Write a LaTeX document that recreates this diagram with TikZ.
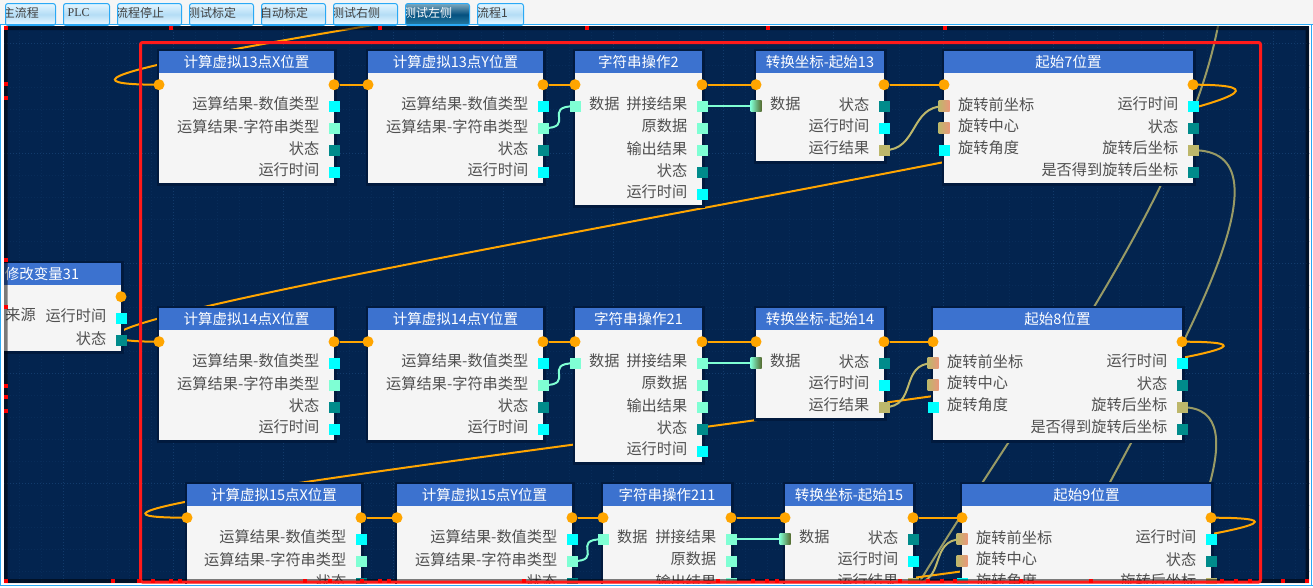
\documentclass[tikz,border=0pt]{standalone}
\usepackage{fontspec}
\setmainfont{Noto Sans CJK SC}
\newfontfamily\plcfont{Liberation Serif}
\usepackage{xcolor}
\usepackage{tikz}
\usetikzlibrary{backgrounds,calc}

\pgfdeclarelayer{backlayer}
\pgfdeclarelayer{wirelayer}
\pgfsetlayers{backlayer,wirelayer,main}

\definecolor{canvascol}{HTML}{03244F}
\definecolor{gridminor}{HTML}{082C59}
\definecolor{gridmajor}{HTML}{123B6C}
\definecolor{glowcol}{HTML}{011A3E}
\definecolor{titlecol}{HTML}{3C72CF}
\definecolor{bodycol}{HTML}{F5F5F5}
\definecolor{textcol}{HTML}{505050}
\definecolor{framecol}{HTML}{2AA9F5}
\definecolor{redcol}{HTML}{FF1A1A}
\definecolor{wireorange}{HTML}{FFA500}
\definecolor{cyancol}{HTML}{00FFFF}
\definecolor{aquacol}{HTML}{7FFFD4}
\definecolor{tealcol}{HTML}{008B8B}
\definecolor{khakicol}{HTML}{BDB76B}
\definecolor{salmoncol}{HTML}{E9967A}
\definecolor{olivecol}{HTML}{556B2F}
\definecolor{tabtop}{HTML}{E4F6FF}
\definecolor{tabmid}{HTML}{B4DDF6}
\definecolor{tabbot}{HTML}{EFFAFF}
\definecolor{acttop}{HTML}{7FA9BF}
\definecolor{actmid}{HTML}{04507F}
\definecolor{actbot}{HTML}{2A7FA5}

\tikzset{
	blockbody/.style={fill=bodycol,inner sep=0pt,outer sep=0pt,anchor=north west,preaction={draw=glowcol,line width=5pt}},
	blocktitle/.style={fill=titlecol,text=white,inner sep=0pt,outer sep=0pt,anchor=north west,minimum height=22pt,text height=13.5pt,text depth=3.5pt,font=\fontsize{14.5}{16}\selectfont},
	blocklabel/.style={text=textcol,inner sep=0pt,font=\fontsize{15.2}{17}\selectfont},
	flowpin/.style={shape=circle,fill=wireorange,minimum width=11pt,inner sep=0pt,outer sep=0pt},
	pinbase/.style={shape=rectangle,minimum width=11pt,minimum height=11pt,inner sep=0pt,outer sep=0pt},
	pincyan/.style={pinbase,fill=cyancol},
	pinaqua/.style={pinbase,fill=aquacol},
	pinteal/.style={pinbase,fill=tealcol},
	pinkhaki/.style={pinbase,fill=khakicol},
	pinsalmon/.style={pinbase,left color=khakicol,right color=salmoncol},
	pinolive/.style={pinbase,left color=aquacol,right color=olivecol},
	goldwire/.style={draw=wireorange,line width=2pt},
	aquawire/.style={draw=aquacol,line width=2pt},
	khakiwire/.style={draw=khakicol,line width=2pt},
	farwire/.style={draw=khakicol!80!canvascol,line width=2pt},
	tabbox/.style={draw=framecol,line width=1pt,rounded corners=2.5pt,anchor=north west,inner sep=0pt,minimum height=22pt,top color=tabtop,bottom color=tabbot,middle color=tabmid},
	tabactive/.style={draw=framecol,line width=1pt,rounded corners=2.5pt,anchor=north west,inner sep=0pt,minimum height=22pt,top color=acttop,bottom color=actbot,middle color=actmid},
	tabtext/.style={anchor=west,inner sep=0pt,text=black!75,font=\fontsize{12}{14}\selectfont}
}

% name, left, top, width, height, title, outputs, inputs
\newcommand{\flowblock}[8]{
	\node[blockbody,minimum width=#4,minimum height=#5] (#1) at (#2,#3) {};
	\node[blocktitle,minimum width=#4] (#1-title) at (#2,#3) {#6};
	\node[flowpin] (#1-in) at (#2,#3+33.7) {};
	\node[flowpin] (#1-out) at (#2+#4,#3+33.7) {};
	\foreach \lab/\col [count=\k] in #7 {
		\node[\col] (#1-out\k) at (#2+#4,#3+33.2+22*\k) {};
		\node[blocklabel,anchor=east] (#1-outlab\k) at (#2+#4-14.5,#3+31.2+22*\k) {\lab};
	}
	\foreach \lab/\col [count=\k] in #8 {
		\node[\col] (#1-port\k) at (#2,#3+33.2+22*\k) {};
		\node[blocklabel,anchor=west] (#1-portlab\k) at (#2+14,#3+31.2+22*\k) {\lab};
	}
}

\newcommand{\calcout}{运算结果-数值类型/pincyan,运算结果-字符串类型/pinaqua,状态/pinteal,运行时间/pincyan}
\newcommand{\strout}{拼接结果/pinaqua,原数据/pinaqua,输出结果/pinaqua,状态/pinteal,运行时间/pincyan}
\newcommand{\convout}{状态/pinteal,运行时间/pincyan,运行结果/pinkhaki}
\newcommand{\startout}{运行时间/pincyan,状态/pinteal,旋转后坐标/pinkhaki,是否得到旋转后坐标/pinteal}

\begin{document}
\begin{tikzpicture}[x=1pt,y=-1pt]
\useasboundingbox (0,0) rectangle (1313,587);

\begin{pgfonlayer}{backlayer}
	\fill[bodycol] (0,0) rectangle (1313,587);
	\fill[white] (0,25) rectangle (1313,587);
	\fill[canvascol] (4,26) rectangle (1309,583);
	\foreach \gx in {19,41,...,1305} {
		\draw[gridminor,line width=1pt,dotted] (\gx,26) -- (\gx,583);
	}
	\foreach \gy in {43,65,...,583} {
		\draw[gridminor,line width=1pt,dotted] (4,\gy) -- (1309,\gy);
	}
	\foreach \gx in {63,173,...,1273} {
		\draw[gridmajor,line width=1pt,dotted] (\gx,26) -- (\gx,583);
	}
	\foreach \gy in {43,153,263,373,483} {
		\draw[gridmajor,line width=1pt,dotted] (4,\gy) -- (1309,\gy);
	}
\end{pgfonlayer}

\foreach \tabl/\tabr/\tabx/\tabstyle/\tabname [count=\t] in {
	5/55/2.6/tabbox/主流程,
	63/109/67.5/tabbox/{\plcfont PLC},
	117/181/116/tabbox/流程停止,
	189/253/188/tabbox/测试标定,
	261/325/260/tabbox/自动标定,
	333/397/332/tabbox/测试右侧,
	405/469/404/tabactive/测试左侧,
	477/523/477/tabbox/流程1} {
	\node[\tabstyle,minimum width=\tabr-\tabl] (tab\t) at (\tabl,3) {};
	\begin{scope}
		\clip (\tabl+1,3) rectangle (\tabr,24);
		\ifnum\t=7
			\node[tabtext,text=white] (tablab\t) at (\tabx,13) {\tabname};
		\else
			\node[tabtext] (tablab\t) at (\tabx,13) {\tabname};
		\fi
	\end{scope}
}

\begin{scope}
\clip (4,26) rectangle (1309,583);

\flowblock{modify31}{-37}{263}{158}{88}{修改变量31}{{运行时间/pincyan,状态/pinteal}}{{}}
\node[blocklabel,anchor=east] (modify31-source) at (36,315) {来源};

% row 13
\flowblock{calcx13}{159}{51}{175}{132}{计算虚拟13点X位置}{\calcout}{{}}
\flowblock{calcy13}{368}{51}{175}{132}{计算虚拟13点Y位置}{\calcout}{{}}
\flowblock{str13}{575}{51}{127}{154}{字符串操作2}{\strout}{{数据/pinaqua}}
\flowblock{conv13}{756}{51}{128}{110}{转换坐标-起始13}{\convout}{{数据/pinolive}}
\flowblock{start7}{944}{51}{249}{132}{起始7位置}{\startout}{{旋转前坐标/pinsalmon,旋转中心/pinsalmon,旋转角度/pincyan}}

% row 14
\flowblock{calcx14}{159}{308}{175}{132}{计算虚拟14点X位置}{\calcout}{{}}
\flowblock{calcy14}{368}{308}{175}{132}{计算虚拟14点Y位置}{\calcout}{{}}
\flowblock{str14}{575}{308}{127}{154}{字符串操作21}{\strout}{{数据/pinaqua}}
\flowblock{conv14}{756}{308}{128}{110}{转换坐标-起始14}{\convout}{{数据/pinolive}}
\flowblock{start8}{933}{308}{249}{132}{起始8位置}{\startout}{{旋转前坐标/pinsalmon,旋转中心/pinsalmon,旋转角度/pincyan}}

% row 15
\flowblock{calcx15}{187}{484}{174}{132}{计算虚拟15点X位置}{\calcout}{{}}
\flowblock{calcy15}{397}{484}{175}{132}{计算虚拟15点Y位置}{\calcout}{{}}
\flowblock{str15}{603}{484}{128}{154}{字符串操作211}{\strout}{{数据/pinaqua}}
\flowblock{conv15}{785}{484}{128}{110}{转换坐标-起始15}{\convout}{{数据/pinolive}}
\flowblock{start9}{962}{484}{249}{132}{起始9位置}{\startout}{{旋转前坐标/pinsalmon,旋转中心/pinsalmon,旋转角度/pincyan}}
\end{scope}

\coordinate (topsource) at (1180,-130);
\coordinate (botsink) at (220,690);
\coordinate (khakitop) at (1222,0);
\coordinate (khakibot) at (900,615);
\coordinate (sinkseven) at (1040,790);
\coordinate (sinkeight) at (1040,1000);

\begin{pgfonlayer}{wirelayer}
\begin{scope}
	\clip (4,26) rectangle (1309,583);
	% long ones first
	\draw[farwire] (khakitop) .. controls (1200,190) and (1000,440) .. (khakibot);
	\draw[farwire] (start7-out3.center) .. controls +(190,0) and +(-190,0) .. (sinkseven);
	\draw[farwire] (start8-out3.center) .. controls +(160,0) and +(-160,0) .. (sinkeight);
	\draw[goldwire] (topsource) .. controls +(335,0) and +(-335,0) .. (calcx13-in.center);
	\draw[goldwire] (start7-out.center) .. controls +(330,0) and +(-330,0) .. (calcx14-in.center);
	\draw[goldwire] (start8-out.center) .. controls +(320,0) and +(-320,0) .. (calcx15-in.center);
	\draw[goldwire] (start9-out.center) .. controls +(330,0) and +(-330,0) .. (botsink);
	\foreach \row/\last in {13/start7,14/start8,15/start9} {
		\draw[goldwire] (calcx\row-out) -- (calcy\row-in);
		\draw[goldwire] (calcy\row-out) -- (str\row-in);
		\draw[goldwire] (str\row-out) -- (conv\row-in);
		\draw[goldwire] (conv\row-out) -- (\last-in);
		\draw[aquawire] (calcy\row-out2.center) .. controls +(34,0) and +(-34,0) .. (str\row-port1.center);
		\draw[aquawire] (str\row-out1) -- (conv\row-port1);
		\draw[khakiwire] (conv\row-out3.center) .. controls +(34,0) and +(-34,0) .. (\last-port1.center);
	}
\end{scope}
\end{pgfonlayer}

% scroll bands, red frame, ruler ticks
\fill[black,opacity=0.5,even odd rule] (4,26) rectangle (1309,583) (7.5,30) rectangle (1305.5,579);
\draw[redcol,line width=3pt,rounded corners=2pt] (140.5,42.5) rectangle (1260.5,582);
\foreach \tx in {5.5,171,380,587,768,945} {
	\fill[red] (\tx-2,26) rectangle (\tx+2,30);
}
\foreach \ty in {28,84,98,260,307,386,397,411} {
	\fill[red] (4,\ty-2) rectangle (7.5,\ty+2);
}
\foreach \tx in {5.5,113,139,153,171,180,305,330,362,380,389,524,718,753,767,777,900,928,942,955,1021,1091,1222,1236,1250,1283,1307} {
	\fill[red] (\tx-2,579) rectangle (\tx+2,583);
}

\draw[framecol,line width=1.5pt] (0,24.5) -- (1313,24.5);
\draw[framecol,line width=1pt] (0.5,24.5) -- (0.5,585.5) -- (1313,585.5);
\draw[framecol,line width=1pt] (1311,24.5) -- (1311,585.5);
\end{tikzpicture}
\end{document}
